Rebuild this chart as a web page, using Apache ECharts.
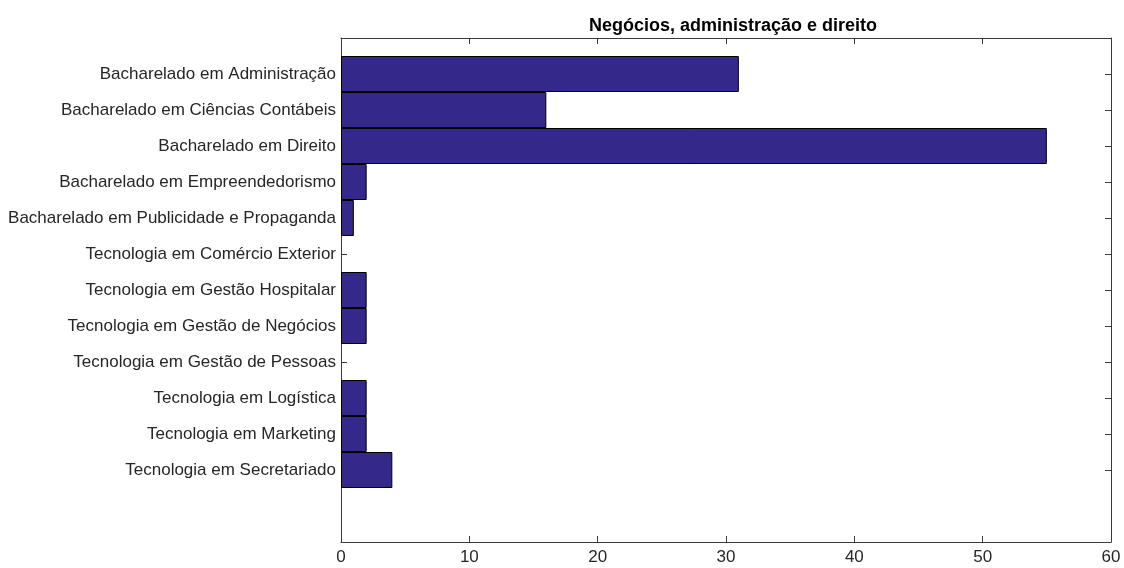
<!DOCTYPE html>
<html>
<head>
<meta charset="utf-8">
<script src="https://cdn.jsdelivr.net/npm/echarts@6/dist/echarts.min.js"></script>
<style>
html,body{margin:0;padding:0;background:#fff;}
#chart{width:1124px;height:568px;}
</style>
</head>
<body>
<div id="chart"></div>
<script>
const title = "Negócios, administração e direito";
const categories = [
  "Bacharelado em Administração",
  "Bacharelado em Ciências Contábeis",
  "Bacharelado em Direito",
  "Bacharelado em Empreendedorismo",
  "Bacharelado em Publicidade e Propaganda",
  "Tecnologia em Comércio Exterior",
  "Tecnologia em Gestão Hospitalar",
  "Tecnologia em Gestão de Negócios",
  "Tecnologia em Gestão de Pessoas",
  "Tecnologia em Logística",
  "Tecnologia em Marketing",
  "Tecnologia em Secretariado"
];
const values = [31, 16, 55, 2, 1, 0, 2, 2, 0, 2, 2, 4];
const xTicks = [0, 10, 20, 30, 40, 50, 60];

// y positions 0..14: category i sits at position i+1
const yCats = [""].concat(categories, ["", ""]);
const yVals = [null].concat(values.map(v => v === 0 ? null : v), [null, null]);
const tickFilter = (idx) => idx >= 1 && idx <= categories.length;

const font = "'Liberation Sans', Arial, Helvetica, sans-serif";
const axisColor = "#262626";
const lineColor = "#3a3a3a";
const chart = echarts.init(document.getElementById('chart'), null, {renderer: 'canvas'});
chart.setOption({
  animation: false,
  backgroundColor: '#ffffff',
  title: {
    text: title,
    left: 728, top: 12, textAlign: 'center',
    textStyle: {fontFamily: font, fontSize: 18, fontWeight: 'bold', color: '#000'}
  },
  grid: {left: 341, right: 13, top: 38, bottom: 26, containLabel: false},
  xAxis: [
    {
      type: 'value', min: 0, max: 60, interval: 10, position: 'bottom',
      axisLine: {show: true, lineStyle: {color: lineColor, width: 1}},
      axisTick: {show: true, inside: true, length: 6, lineStyle: {color: lineColor}},
      axisLabel: {fontFamily: font, fontSize: 17, color: axisColor, margin: 7,
        formatter: v => xTicks.includes(v) ? String(v) : ''},
      splitLine: {show: false}
    },
    {
      type: 'value', min: 0, max: 60, interval: 10, position: 'top',
      axisLine: {show: true, onZero: false, lineStyle: {color: lineColor, width: 1}},
      axisTick: {show: true, inside: true, length: 6, lineStyle: {color: lineColor}},
      axisLabel: {show: false},
      splitLine: {show: false}
    }
  ],
  yAxis: [
    {
      type: 'category', data: yCats, boundaryGap: false, inverse: true, position: 'left',
      axisLine: {show: true, onZero: false, lineStyle: {color: lineColor, width: 1}},
      axisTick: {show: true, inside: true, length: 6, interval: tickFilter, lineStyle: {color: lineColor}},
      axisLabel: {fontFamily: font, fontSize: 17, color: axisColor, margin: 5, interval: 0},
      splitLine: {show: false}
    },
    {
      type: 'category', data: yCats, boundaryGap: false, inverse: true, position: 'right',
      axisLine: {show: true, onZero: false, lineStyle: {color: lineColor, width: 1}},
      axisTick: {show: true, inside: true, length: 6, interval: tickFilter, lineStyle: {color: lineColor}},
      axisLabel: {show: false},
      splitLine: {show: false}
    }
  ],
  series: [{
    type: 'bar',
    xAxisIndex: 0, yAxisIndex: 0,
    data: yVals,
    barWidth: '100%',
    itemStyle: {color: '#34288a', borderColor: '#000', borderWidth: 1},
    z: 1
  }]
});
</script>
</body>
</html>
